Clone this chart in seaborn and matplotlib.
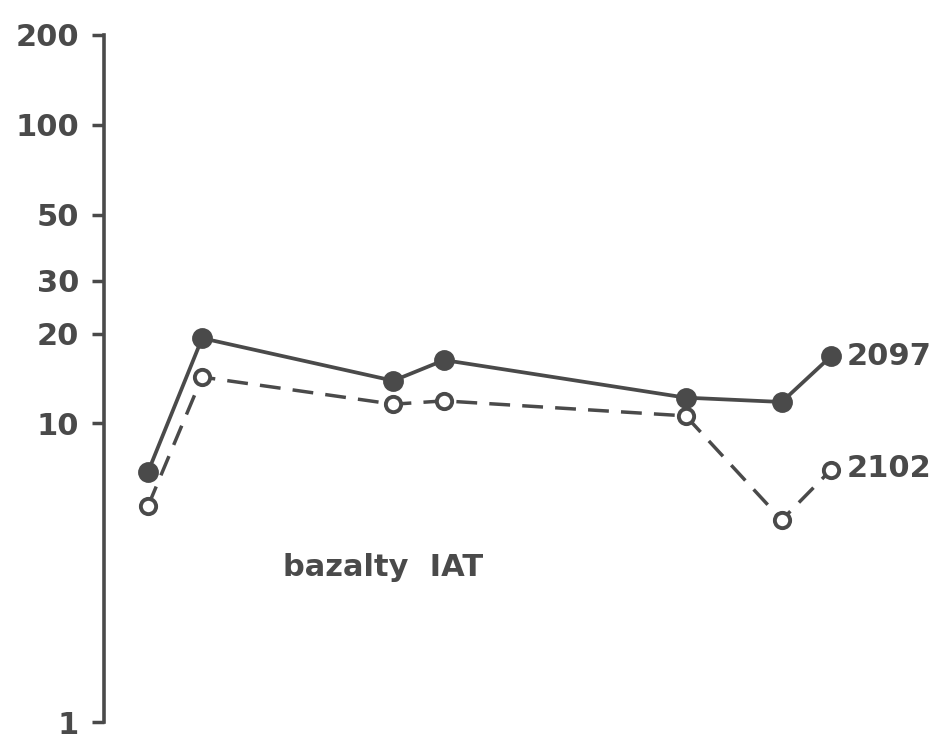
import matplotlib
matplotlib.use("Agg")
import matplotlib.pyplot as plt
import seaborn as sns
import pandas as pd

# Data (x = relative position along the pattern)
positions = [0.85, 1.89, 5.57, 6.55, 11.2, 13.05, 14.0]
s2097 = [6.9, 19.3, 13.9, 16.3, 12.2, 11.8, 16.8]
s2102 = [5.3, 14.3, 11.6, 11.9, 10.6, 4.75, 7.0]
series_labels = ["2097", "2102"]
yticks = [1, 10, 20, 30, 50, 100, 200]
annotation = "bazalty  IAT"

sns.set_theme(style="white")
plt.rcParams['font.family'] = ['DejaVu Sans']

ink = "#4a4a4a"
fig = plt.figure(figsize=(9.35, 7.4), dpi=100)
ax = fig.add_axes([104/935, (740-722)/740, 1 - 104/935, (722-35)/740])

df = pd.DataFrame({"x": positions, "a": s2097, "b": s2102})

sns.lineplot(data=df, x="x", y="a", ax=ax, color=ink, lw=2.7, marker="o",
             markersize=13.5, markerfacecolor=ink, markeredgecolor=ink,
             markeredgewidth=1.5)
sns.lineplot(data=df, x="x", y="b", ax=ax, color=ink, lw=2.5, marker="o",
             markersize=11, markerfacecolor="white", markeredgecolor=ink,
             markeredgewidth=2.8)
ax.lines[1].set_dashes((6, 3.5))

ax.set_yscale("log")
ax.set_ylim(1, 200)
ax.set_xlim(0, 16)
ax.set_yticks(yticks)
ax.set_yticklabels([str(t) for t in yticks])
ax.yaxis.set_minor_locator(matplotlib.ticker.NullLocator())
ax.set_xticks([])
ax.set_xlabel("")
ax.set_ylabel("")

for sp in ["top", "right", "bottom"]:
    ax.spines[sp].set_visible(False)
ax.spines["left"].set_color(ink)
ax.spines["left"].set_linewidth(2.6)
ax.tick_params(axis="y", which="major", direction="out", length=9, width=2.5,
               color=ink, labelcolor=ink, labelsize=22, pad=9, left=True)
for lab in ax.get_yticklabels():
    lab.set_fontweight("bold")

ax.text(14.3, s2097[-1], series_labels[0], fontsize=22, fontweight="bold",
        color=ink, va="center", ha="left")
ax.text(14.3, s2102[-1] * 1.01, series_labels[1], fontsize=22, fontweight="bold",
        color=ink, va="center", ha="left")
ax.text(3.45, 3.28, annotation, fontsize=22, fontweight="bold", color=ink,
        va="center", ha="left")

fig.savefig("out.png", dpi=100, facecolor="white")
